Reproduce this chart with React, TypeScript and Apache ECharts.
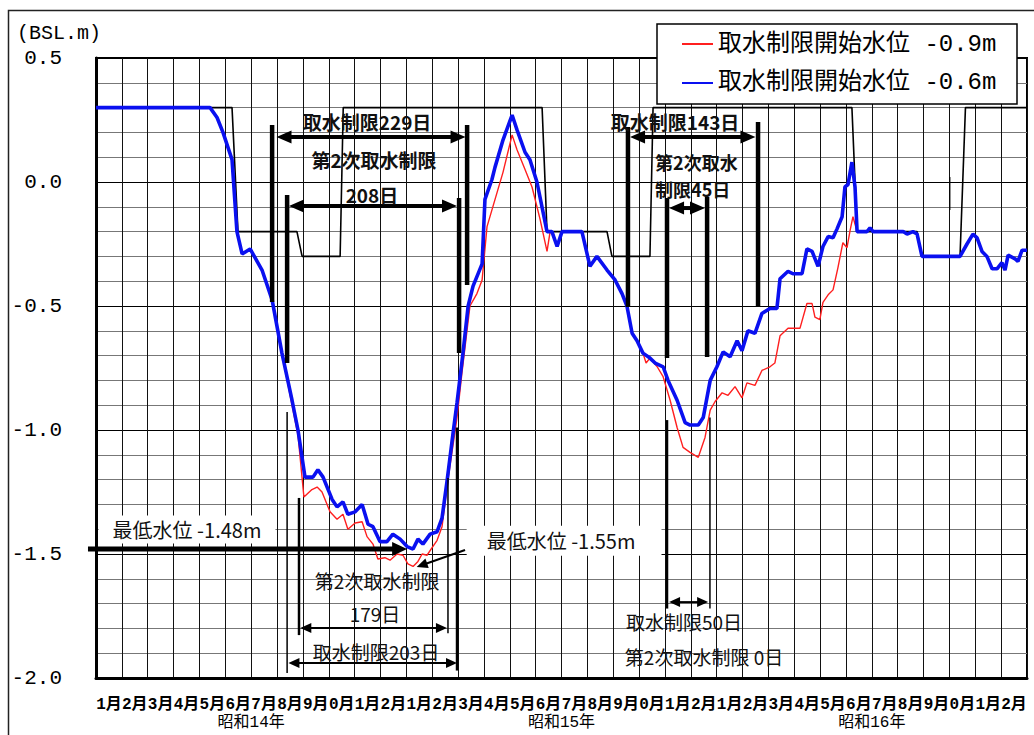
import React, { useEffect, useRef } from 'react';
import * as echarts from 'echarts';

// ---------- data ----------
const monthNames = ['1月', '2月', '3月', '4月', '5月', '6月', '7月', '8月', '9月', '0月', '1月', '2月'];
const monthLabels = [...monthNames, ...monthNames, ...monthNames];
const yearLabels = ['昭和14年', '昭和15年', '昭和16年'];

const nameRed = '取水制限開始水位 -0.9m';
const nameBlue = '取水制限開始水位 -0.6m';

// [month index since Jan S14, water level m]
const level06: [number, number][] = [
  [0, 0.3], [4.41, 0.3], [4.68, 0.26], [4.91, 0.2], [5.26, 0.09], [5.45, -0.2], [5.65, -0.29], [5.96, -0.27],
  [6.42, -0.355], [6.81, -0.475], [7.19, -0.69], [7.58, -0.88], [7.81, -1.0], [8.08, -1.19], [8.39, -1.19],
  [8.58, -1.16], [8.78, -1.19], [9.13, -1.28], [9.32, -1.31], [9.55, -1.29], [9.74, -1.34], [10.02, -1.33],
  [10.29, -1.3], [10.52, -1.38], [10.71, -1.39], [10.98, -1.45], [11.25, -1.45], [11.48, -1.42], [11.76, -1.44],
  [12.03, -1.47], [12.26, -1.48], [12.45, -1.44], [12.64, -1.46], [12.92, -1.42], [13.19, -1.41], [13.38, -1.355],
  [13.57, -1.21], [13.81, -1.01], [13.96, -0.89], [14.19, -0.69], [14.39, -0.5], [14.58, -0.42], [14.93, -0.33],
  [15.04, -0.07], [15.31, 0.01], [15.43, 0.06], [15.74, 0.17], [16.09, 0.27], [16.28, 0.21], [16.59, 0.12],
  [16.78, 0.09], [17.05, 0.0], [17.44, -0.2], [17.63, -0.2], [17.83, -0.26], [18.02, -0.2], [18.79, -0.2],
  [19.1, -0.34], [19.37, -0.3], [19.76, -0.355], [20.07, -0.395], [20.34, -0.45], [20.53, -0.5], [20.73, -0.61],
  [20.92, -0.64], [21.15, -0.69], [21.42, -0.71], [21.62, -0.73], [21.93, -0.745], [22.12, -0.8], [22.47, -0.88],
  [22.78, -0.97], [22.97, -0.98], [23.29, -0.98], [23.48, -0.95], [23.75, -0.8], [24.01, -0.745], [24.25, -0.685],
  [24.52, -0.705], [24.79, -0.64], [24.98, -0.68], [25.21, -0.6], [25.48, -0.61], [25.75, -0.53], [26.06, -0.51],
  [26.33, -0.51], [26.45, -0.39], [26.76, -0.36], [26.95, -0.37], [27.3, -0.37], [27.49, -0.27], [27.69, -0.28],
  [27.92, -0.34], [28.11, -0.26], [28.31, -0.22], [28.5, -0.225], [28.65, -0.19], [28.85, -0.14], [28.96, -0.02],
  [29.08, -0.01], [29.23, 0.08], [29.35, -0.02], [29.43, -0.2], [29.81, -0.2], [29.93, -0.185], [30.05, -0.2],
  [31.21, -0.2], [31.36, -0.21], [31.59, -0.2], [31.75, -0.21], [31.94, -0.3], [33.41, -0.3], [33.68, -0.25],
  [33.91, -0.21], [34.07, -0.225], [34.26, -0.28], [34.45, -0.3], [34.65, -0.35], [34.84, -0.35], [35.03, -0.325],
  [35.15, -0.355], [35.27, -0.295], [35.54, -0.31], [35.65, -0.32], [35.81, -0.275], [36, -0.275],
];

const level09: [number, number][] = [
  [0, 0.3], [4.41, 0.3], [4.68, 0.26], [4.91, 0.2], [5.26, 0.09], [5.45, -0.2], [5.65, -0.29], [5.96, -0.27],
  [6.42, -0.355], [6.81, -0.475], [7.19, -0.69], [7.58, -0.9], [7.81, -1.02], [8.04, -1.27], [8.35, -1.24],
  [8.55, -1.23], [8.74, -1.25], [9.05, -1.33], [9.32, -1.36], [9.55, -1.34], [9.74, -1.4], [10.02, -1.375],
  [10.29, -1.37], [10.48, -1.43], [10.71, -1.46], [10.9, -1.52], [11.17, -1.515], [11.37, -1.525], [11.64, -1.5],
  [11.87, -1.505], [12.06, -1.54], [12.26, -1.55], [12.45, -1.53], [12.61, -1.5], [12.8, -1.505], [12.99, -1.475],
  [13.19, -1.445], [13.38, -1.39], [13.61, -1.2], [13.96, -0.95], [14.15, -0.77], [14.46, -0.5], [14.73, -0.45],
  [14.93, -0.395], [15.12, -0.18], [15.43, -0.07], [15.74, 0.04], [16.09, 0.19], [16.28, 0.13], [16.59, 0.05],
  [16.86, -0.02], [17.17, -0.15], [17.44, -0.28], [17.56, -0.2], [17.63, -0.2], [17.83, -0.26], [18.02, -0.2],
  [18.79, -0.2], [19.1, -0.34], [19.37, -0.3], [19.76, -0.355], [20.07, -0.395], [20.34, -0.45], [20.53, -0.5],
  [20.73, -0.61], [20.92, -0.64], [21.15, -0.69], [21.27, -0.73], [21.42, -0.71], [21.7, -0.745], [21.93, -0.785],
  [22.2, -0.88], [22.47, -0.99], [22.7, -1.07], [22.97, -1.09], [23.29, -1.11], [23.55, -1.03], [23.75, -0.92],
  [23.94, -0.885], [24.21, -0.85], [24.44, -0.86], [24.71, -0.825], [24.98, -0.87], [25.17, -0.81], [25.48, -0.82],
  [25.75, -0.76], [26.06, -0.745], [26.25, -0.73], [26.45, -0.62], [26.76, -0.59], [27.22, -0.59], [27.49, -0.49],
  [27.69, -0.49], [27.8, -0.545], [27.99, -0.555], [28.11, -0.485], [28.31, -0.455], [28.5, -0.435], [28.69, -0.345],
  [28.88, -0.245], [29.04, -0.265], [29.16, -0.195], [29.27, -0.14], [29.43, -0.2], [29.81, -0.2], [29.93, -0.185],
  [30.05, -0.2], [31.21, -0.2], [31.36, -0.21], [31.59, -0.2], [31.75, -0.21], [31.94, -0.3], [33.41, -0.3],
  [33.68, -0.25], [33.91, -0.21], [34.07, -0.225], [34.26, -0.28], [34.45, -0.3], [34.65, -0.35], [34.84, -0.35],
  [35.03, -0.325], [35.15, -0.355], [35.27, -0.295], [35.54, -0.31], [35.65, -0.32], [35.81, -0.275], [36, -0.275],
];

// operating limit (black step line)
const limitLevel: [number, number][] = [
  [0, 0.3], [5.26, 0.3], [5.49, -0.2], [7.77, -0.2], [7.97, -0.3], [9.44, -0.3], [9.56, 0.3], [17.25, 0.3],
  [17.44, -0.2], [19.76, -0.2], [19.95, -0.3], [21.42, -0.3], [21.54, 0.3], [29.23, 0.3], [29.43, -0.2],
  [31.75, -0.2], [31.94, -0.3], [33.41, -0.3], [33.62, 0.3], [36, 0.3],
];

// annotation bars: [month, level top, level bottom, kind]
const spanBars: [number, number, number, string][] = [
  [6.81, 0.23, -0.484, 'thick'], [14.35, 0.23, -0.415, 'thick'],
  [7.39, -0.052, -0.73, 'thick'], [14.04, -0.065, -0.69, 'thick'],
  [20.57, 0.222, -0.504, 'thick'], [25.6, 0.242, -0.504, 'thick'],
  [22.08, -0.065, -0.71, 'thick'], [23.63, -0.06, -0.706, 'thick'],
  [7.39, -0.927, -1.98, 'thin'], [7.85, -1.274, -1.827, 'mid'],
  [13.61, -1.194, -1.82, 'thin'], [13.96, -0.99, -1.97, 'mid'],
  [22.08, -0.96, -1.72, 'mid'], [23.74, -0.95, -1.72, 'thin'],
  [33.02, 0.02, -0.113, 'hair'],
];

// annotation arrows: [m1, v1, m2, v2, heads, kind]
const spanArrows: [number, number, number, number, string, string][] = [
  [6.98, 0.181, 14.29, 0.181, 'both', 'thick'],
  [7.46, -0.097, 13.96, -0.097, 'both', 'thick'],
  [20.65, 0.181, 25.5, 0.181, 'both', 'thick'],
  [22.16, -0.105, 23.55, -0.105, 'both', 'thick'],
  [-0.31, -1.48, 12.03, -1.48, 'end', 'heavy'],
  [7.9, -1.798, 13.57, -1.798, 'both', 'thin'],
  [7.44, -1.94, 13.96, -1.94, 'both', 'thin'],
  [22.16, -1.694, 23.67, -1.694, 'both', 'thin'],
  [14.27, -1.484, 12.4, -1.552, 'end', 'thin'],
];

// annotation texts: [text, month, level, align, kind]
const spanLabels: [string, number, number, string, string][] = [
  ['取水制限229日', 10.48, 0.242, 'center', 'bold'],
  ['第2次取水制限', 10.75, 0.089, 'center', 'bold'],
  ['208日', 10.67, -0.052, 'center', 'bold'],
  ['取水制限143日', 22.39, 0.242, 'center', 'bold'],
  ['第2次取水', 21.62, 0.08, 'left', 'small'],
  ['制限45日', 21.62, -0.03, 'left', 'small'],
  ['最低水位 -1.48m', 3.52, -1.401, 'center', 'box'],
  ['最低水位 -1.55m', 18.1, -1.447, 'center', 'box'],
  ['第2次取水制限', 10.87, -1.605, 'center', 'plain'],
  ['179日', 10.79, -1.738, 'center', 'plain'],
  ['取水制限203日', 10.83, -1.895, 'center', 'plain'],
  ['取水制限50日', 20.49, -1.774, 'left', 'plain'],
  ['第2次取水制限 0日', 20.45, -1.915, 'left', 'plain'],
];

// ---------- styles ----------
const CJK = "'Noto Sans CJK JP', sans-serif";
const MONO = "'Liberation Mono', 'Noto Sans CJK JP', monospace";
const BAR_W: Record<string, number> = { thick: 4.5, mid: 2.5, thin: 1.5, hair: 1 };
const ARROW: Record<string, { lw: number; L: number; W: number }> = {
  thick: { lw: 4, L: 15, W: 6.5 },
  heavy: { lw: 5, L: 15, W: 7 },
  thin: { lw: 2, L: 11, W: 5 },
};
const LABEL_SIZE: Record<string, number> = { bold: 19, small: 18, box: 20, plain: 19 };

function renderBar(params: any, api: any) {
  const [m, v1, v2, kind] = spanBars[params.dataIndex];
  const p1 = api.coord([m, v1]);
  const p2 = api.coord([m, v2]);
  return {
    type: 'line',
    shape: { x1: p1[0], y1: p1[1], x2: p2[0], y2: p2[1] },
    style: { stroke: '#000', lineWidth: BAR_W[kind] },
  };
}

function renderArrow(params: any, api: any) {
  const [m1, v1, m2, v2, heads, kind] = spanArrows[params.dataIndex];
  const s = ARROW[kind];
  const a = api.coord([m1, v1]);
  const b = api.coord([m2, v2]);
  const dx = b[0] - a[0];
  const dy = b[1] - a[1];
  const len = Math.sqrt(dx * dx + dy * dy);
  const ux = dx / len;
  const uy = dy / len;
  const nx = -uy;
  const ny = ux;
  const head = (tip: number[], dir: number) => ({
    type: 'polygon',
    shape: {
      points: [
        [tip[0], tip[1]],
        [tip[0] - dir * s.L * ux + s.W * nx, tip[1] - dir * s.L * uy + s.W * ny],
        [tip[0] - dir * s.L * ux - s.W * nx, tip[1] - dir * s.L * uy - s.W * ny],
      ],
    },
    style: { fill: '#000' },
  });
  const startInset = heads === 'both' ? s.L - 2 : 0;
  const endInset = s.L - 2;
  const children: any[] = [
    {
      type: 'line',
      shape: {
        x1: a[0] + ux * startInset, y1: a[1] + uy * startInset,
        x2: b[0] - ux * endInset, y2: b[1] - uy * endInset,
      },
      style: { stroke: '#000', lineWidth: s.lw },
    },
    head(b, 1),
  ];
  if (heads === 'both') children.push(head(a, -1));
  return { type: 'group', children };
}

function renderLabel(params: any, api: any) {
  const [text, m, v, align, kind] = spanLabels[params.dataIndex];
  const p = api.coord([m, v]);
  const style: any = {
    text,
    fill: '#111',
    fontFamily: CJK,
    fontSize: LABEL_SIZE[kind],
    fontWeight: kind === 'bold' || kind === 'small' ? 'bold' : 'normal',
    align,
    verticalAlign: 'middle',
    textAlign: align,
    textVerticalAlign: 'middle',
  };
  if (kind === 'box') {
    style.backgroundColor = '#fff';
    style.padding = params.dataIndex === 6 ? [4, 14, 4, 14] : [5, 26, 5, 20];
  }
  return { type: 'text', x: p[0], y: p[1], style };
}

function buildOption(): any {
  return {
    animation: false,
    backgroundColor: '#fff',
    title: {
      text: '(BSL.m)',
      left: 12,
      top: 18,
      textStyle: { fontFamily: MONO, fontSize: 20, fontWeight: 'normal', color: '#000' },
    },
    grid: {
      left: 96, top: 58, width: 931, height: 620,
      show: true, borderColor: '#000', borderWidth: 2, backgroundColor: 'transparent',
    },
    legend: {
      data: [nameRed, nameBlue],
      orient: 'vertical',
      left: 681,
      top: 32,
      padding: 0,
      itemWidth: 31,
      itemHeight: 14,
      itemGap: 15,
      selectedMode: false,
      z: 20,
      itemStyle: { opacity: 0 },
      textStyle: { fontFamily: MONO, fontSize: 24, color: '#000' },
    },
    graphic: [
      {
        type: 'rect',
        shape: { x: 8.5, y: 10.5, width: 1200, height: 900 },
        style: { fill: 'none', stroke: '#222', lineWidth: 1.5 },
        z: 0,
        silent: true,
      },
      {
        type: 'rect',
        shape: { x: 657, y: 24, width: 360, height: 80 },
        style: { fill: '#fff', stroke: '#000', lineWidth: 1.5 },
        z: 15,
        silent: true,
      },
    ],
    xAxis: [
      {
        type: 'value', min: 0, max: 36, interval: 1,
        axisLine: { show: true, onZero: false, lineStyle: { color: '#000', width: 3 } },
        axisTick: { show: false },
        axisLabel: { show: false },
        splitLine: { show: true, lineStyle: { color: '#111', width: 1 } },
      },
      {
        type: 'category', data: monthLabels, position: 'bottom', boundaryGap: true,
        axisLine: { show: false }, axisTick: { show: false }, splitLine: { show: false },
        axisLabel: { interval: 0, margin: 19, fontSize: 16, fontWeight: 'bold', fontFamily: MONO, color: '#000' },
      },
      {
        type: 'category', data: yearLabels, position: 'bottom', boundaryGap: true,
        axisLine: { show: false }, axisTick: { show: false }, splitLine: { show: false },
        axisLabel: { interval: 0, margin: 37, fontSize: 16, fontFamily: MONO, color: '#000' },
      },
    ],
    yAxis: [
      {
        type: 'value', min: -2, max: 0.5, interval: 0.1,
        axisLine: { show: true, onZero: false, lineStyle: { color: '#000', width: 3 } },
        axisTick: { show: false },
        axisLabel: { show: false },
        splitLine: { show: true, lineStyle: { color: '#777', width: 1 } },
      },
      {
        type: 'value', min: -2, max: 0.5, interval: 0.5, position: 'left',
        axisLine: { show: false }, axisTick: { show: false },
        axisLabel: {
          margin: 34, fontSize: 21, fontFamily: MONO, color: '#000',
          formatter: (v: number) => v.toFixed(1),
        },
        splitLine: { show: true, lineStyle: { color: '#000', width: 1.2 } },
      },
    ],
    series: [
      {
        type: 'line', name: 'limit', data: limitLevel, xAxisIndex: 0, yAxisIndex: 0,
        symbol: 'none', silent: true, z: 2,
        lineStyle: { color: '#000', width: 1.6 },
      },
      {
        type: 'line', name: nameRed, data: level09, xAxisIndex: 0, yAxisIndex: 0,
        symbol: 'none', z: 3,
        lineStyle: { color: '#ff1f1f', width: 1.4 }, itemStyle: { color: '#ff1f1f' },
      },
      {
        type: 'line', name: nameBlue, data: level06, xAxisIndex: 0, yAxisIndex: 0,
        symbol: 'none', z: 4,
        lineStyle: { color: '#0a10f0', width: 3.6 }, itemStyle: { color: '#0a10f0' },
      },
      {
        type: 'custom', name: 'bars', xAxisIndex: 0, yAxisIndex: 0, z: 6, silent: true,
        data: spanBars.map((b) => [b[0], b[1]]), renderItem: renderBar,
      },
      {
        type: 'custom', name: 'arrows', xAxisIndex: 0, yAxisIndex: 0, z: 7, silent: true,
        data: spanArrows.map((a) => [a[0], a[1]]), renderItem: renderArrow,
      },
      {
        type: 'custom', name: 'labels', xAxisIndex: 0, yAxisIndex: 0, z: 8, silent: true,
        data: spanLabels.map((l) => [l[1], l[2]]), renderItem: renderLabel,
      },
    ],
  };
}

export default function App() {
  const ref = useRef<HTMLDivElement>(null);
  useEffect(() => {
    const chart = echarts.init(ref.current as HTMLDivElement, null, { renderer: 'svg' });
    chart.setOption(buildOption());
    return () => chart.dispose();
  }, []);
  return (
    <div
      ref={ref}
      style={{ position: 'absolute', left: 0, top: 0, width: 1034, height: 735, background: '#fff' }}
    />
  );
}
